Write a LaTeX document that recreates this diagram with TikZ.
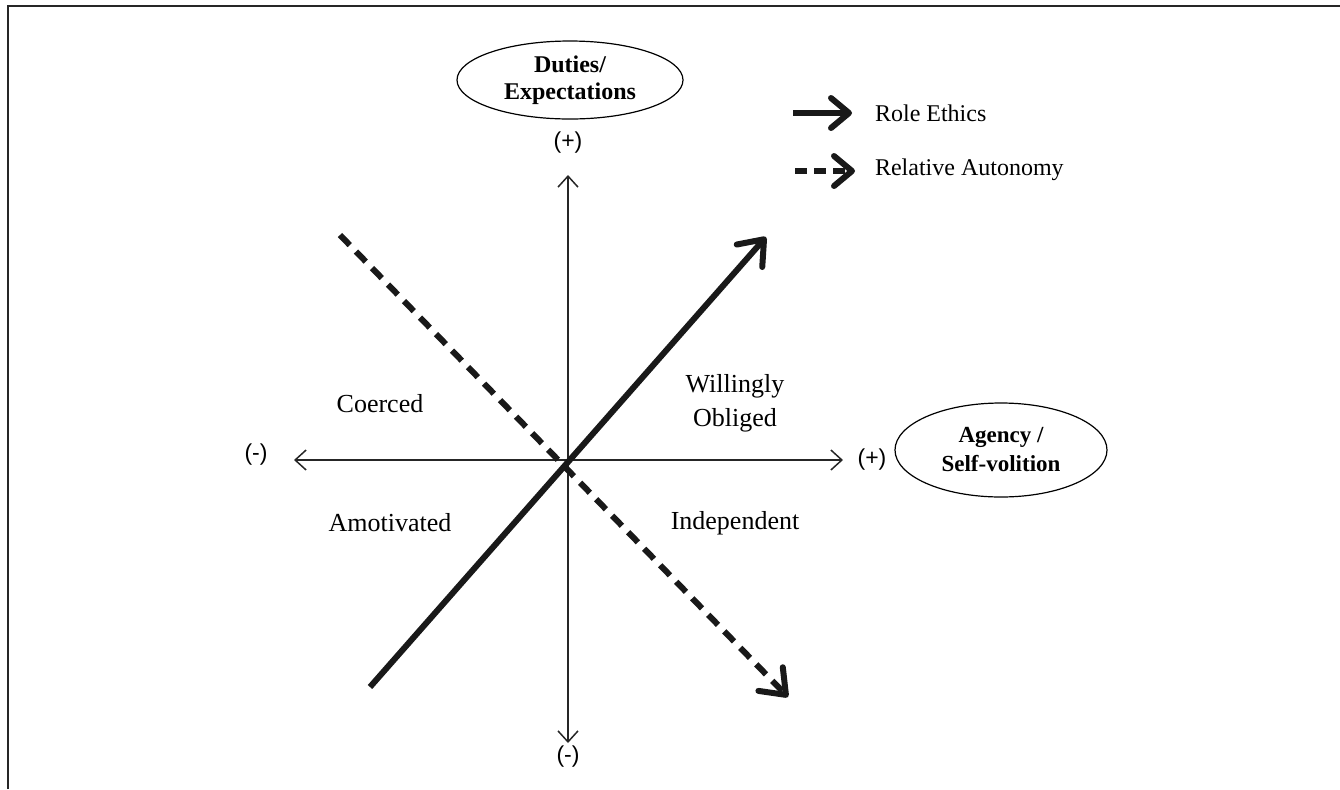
\documentclass[tikz,border=0pt]{standalone}
\usepackage{fontspec}
\setmainfont{Liberation Serif}
\newfontfamily\sansf{Liberation Sans}
\usetikzlibrary{arrows.meta,shapes.geometric}
\tikzset{
  axis/.style={line width=0.75pt, black!85, {Straight Barb[length=5.5pt,width=10pt]}-{Straight Barb[length=5.5pt,width=10pt]}},
  thickarrow/.style={line width=3pt, black!90, -{Straight Barb[length=11pt,width=17pt,round]}},
  dasharrow/.style={thickarrow, dash pattern=on 7pt off 4.5pt},
  legarrow/.style={line width=3pt, black!90, -{Straight Barb[length=9pt,width=15pt,round]}},
  legdash/.style={legarrow, dash pattern=on 6pt off 3.5pt},
  oval/.style={draw, ellipse, line width=0.6pt, inner sep=0pt, font=\bfseries\fontsize{12}{13.5}\selectfont, align=center},
  quad/.style={font=\fontsize{13}{17}\selectfont, align=center},
  sign/.style={font=\sansf\fontsize{11.5}{13}\selectfont},
  leg/.style={font=\fontsize{12}{14}\selectfont, anchor=west}
}
\begin{document}
\begin{tikzpicture}[x=0.5pt,y=-0.5pt]
\useasboundingbox (0,0) rectangle (1340,789);
\draw[line width=1pt, black!85] (7.5,789) -- (7.5,5.5) -- (1340,5.5);
% ellipses
\node[oval, minimum width=113pt, minimum height=39pt] (duties) at (570,80) {Duties/\\Expectations};
\node[oval, minimum width=106pt, minimum height=47pt, font=\bfseries\fontsize{11.5}{14.5}\selectfont] (agency) at (1001,450) {Agency /\\Self-volition};
% axis end coordinates
\coordinate (vtop) at (568,175);
\coordinate (vbot) at (568,743);
\coordinate (hl) at (294,460);
\coordinate (hr) at (843,460);
\draw[axis] (vbot) -- (vtop);
\draw[axis] (hl) -- (hr);
% signs
\node[sign] (ptop) at (568,143) {(+)};
\node[sign] (mbot) at (568,757) {(-)};
\node[sign] (mleft) at (256,455) {(-)};
\node[sign] (pright) at (872,460) {(+)};
% main arrows
\coordinate (rs) at (370,687);
\coordinate (re) at (766,237);
\coordinate (as) at (340,235);
\coordinate (ae) at (788,697);
\draw[dasharrow] (as) -- (ae);
\draw[thickarrow] (rs) -- (re);
% quadrant labels
\node[quad] (coerced) at (380,404) {Coerced};
\node[quad] (willing) at (735,403) {Willingly\\Obliged};
\node[quad] (amot) at (390,523) {Amotivated};
\node[quad] (indep) at (735,523) {Independent};
% legend
\coordinate (l1s) at (793,113);
\coordinate (l1e) at (852,113);
\coordinate (l2s) at (795,171);
\coordinate (l2e) at (855,171);
\draw[legarrow] (l1s) -- (l1e);
\draw[legdash] (l2s) -- (l2e);
\node[leg] (lrole) at (868,113) {Role Ethics};
\node[leg] (lrel) at (868,170) {Relative Autonomy};
\end{tikzpicture}
\end{document}
